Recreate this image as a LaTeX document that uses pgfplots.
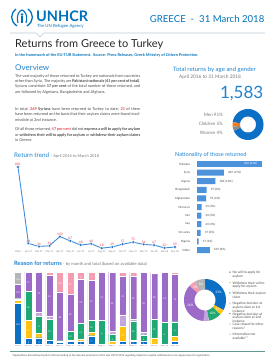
\documentclass[border=0pt]{standalone}
\usepackage{fontspec}
\setmainfont{Lato}
\usepackage{pgfplots}
\pgfplotsset{compat=1.18}
\usepackage{pgfplotstable}
\pgfplotsset{/pgf/number format/assume math mode=true}
\newcommand{\fs}[1]{\fontsize{#1}{#1}\selectfont}
\definecolor{unblue}{HTML}{0072BC}
\definecolor{hblue}{HTML}{1F83D1}
\definecolor{txtgray}{HTML}{4A4A4A}
\definecolor{dgray}{HTML}{7A7A7A}
\definecolor{redl}{HTML}{E5424D}
\definecolor{linec}{HTML}{3F8EDB}
\definecolor{markc}{HTML}{1E6FC0}
\definecolor{natbar}{HTML}{4C93DC}
\definecolor{cb}{HTML}{0B6FC6}
\definecolor{cy}{HTML}{FFC30F}
\definecolor{cg}{HTML}{1FA774}
\definecolor{clp}{HTML}{C2A5DD}
\definecolor{cp}{HTML}{9C6BC7}
\definecolor{cpk}{HTML}{F49DB0}
\definecolor{cgr}{HTML}{B5B5B5}
\definecolor{corange}{HTML}{F07D21}
\definecolor{agegray}{HTML}{8C8C8C}
\definecolor{sepline}{HTML}{BCCBD8}
\definecolor{footline}{HTML}{5F9A92}

% monthly returns by reason: b=no will, yw=withdrew will, g=withdrew claim,
% lp=negative 1st, p=negative 2nd, pk=closed other, gr=not available, t=total
\pgfplotstableread{
i b yw g lp p pk gr t
0 452 34 18 6 153 0 138 801
1 5 16 26 0 17 0 0 64
2 3 2 8 2 19 0 0 34
3 2 0 12 2 23 2 0 41
4 3 0 3 0 88 36 0 130
5 3 2 10 0 45 27 0 87
6 2 1 11 0 29 5 0 48
7 7 3 10 0 33 7 0 60
8 0 0 6 0 12 0 0 18
9 0 1 3 1 24 0 0 29
10 2 12 0 9 31 3 0 57
11 3 1 20 2 45 4 0 75
12 2 0 5 2 45 0 0 54
13 0 4 12 0 30 1 0 47
14 0 0 6 0 14 0 0 20
15 1 2 6 0 19 1 0 29
}\reasons

\begin{document}
\begin{tikzpicture}
\path[use as bounding box] (0,0) rectangle (265pt,-358pt);
\fill[white] (0,0) rectangle (265pt,-358pt);

% ---------- header ----------
\begin{scope}[shift={(22pt,-17pt)}, unblue]
\draw[line width=1.3pt] (-6pt,8pt) .. controls (-12pt,3pt) and (-12pt,-4pt) .. (-5pt,-9pt);
\draw[line width=1.3pt] (6pt,8pt) .. controls (12pt,3pt) and (12pt,-4pt) .. (5pt,-9pt);
\draw[line width=1.1pt] (-4pt,-6pt) .. controls (-6pt,2pt) and (-3pt,6pt) .. (0,7pt) .. controls (3pt,6pt) and (6pt,2pt) .. (4pt,-6pt);
\fill (0,2.5pt) circle (1.3pt);
\fill (-1.3pt,-6pt) rectangle (1.3pt,0.6pt);
\end{scope}
\node[anchor=base west, inner sep=0, font=\fs{14.5}\bfseries, text=unblue] at (36pt,-21.5pt) {UNHCR};
\node[anchor=base west, inner sep=0, font=\fs{4.3}, text=unblue] at (37pt,-27.8pt) {The UN Refugee Agency};
\node[anchor=base east, inner sep=0, font=\fs{9.6}, text=unblue] at (264.5pt,-22.5pt) {GREECE\ \ -\ \ 31 March 2018};
\draw[sepline, line width=0.6pt] (10pt,-33pt) -- (36pt,-33pt) -- (40pt,-37pt) -- (44pt,-33pt) -- (265pt,-33pt);
\node[anchor=base west, inner sep=0, font=\fs{11}, text=black!85] at (15pt,-48pt) {Returns from Greece to Turkey};
\node[anchor=base west, inner sep=0, font=\fs{3.9}\bfseries, text=unblue] at (15pt,-56.5pt) {In the framework of the EU-TUR Statement.\ \ Source: Press Releases, Greek Ministry of Citizen Protection.};

% ---------- overview ----------
\node[anchor=base west, inner sep=0, font=\fs{8}, text=hblue] at (15pt,-71pt) {Overview};
\node[anchor=north west, inner sep=0, text width=125pt, align=justify, font=\fontsize{3.9}{5.3}\selectfont, text=txtgray] at (15pt,-74.2pt)
{The vast majority of those returned to Turkey are nationals from countries other than Syria. The majority are \textbf{Pakistani nationals (41 per cent of total)}. Syrians constitute \textbf{17 per cent} of the total number of those returned, and are followed by Algerians, Bangladeshis and Afghans.};
\node[anchor=north west, inner sep=0, text width=125pt, align=justify, font=\fontsize{3.9}{5.3}\selectfont, text=txtgray] at (15pt,-107.5pt)
{In total, \textcolor{redl}{\textbf{269}} \textbf{Syrians} have been returned to Turkey to date; \textcolor{redl}{\textbf{21}} of them have been returned on the basis that their asylum claims were found inadmissible at 2nd instance.};
\node[anchor=north west, inner sep=0, text width=125pt, align=justify, font=\fontsize{3.9}{5.3}\selectfont, text=txtgray] at (15pt,-127.8pt)
{Of all those returned, \textcolor{redl}{\textbf{47 per cent}} did not \textbf{express a will to apply for asylum} or \textbf{withdrew their will to apply for asylum} or \textbf{withdrew their asylum claims} in Greece.};

% ---------- total returns ----------
\node[anchor=base west, inner sep=0, font=\fs{6}, text=hblue] at (173pt,-71.5pt) {Total returns by age and gender};
\node[anchor=base west, inner sep=0, font=\fs{4.8}, text=dgray] at (179pt,-78.5pt) {April 2016 to 31 March 2018};
\node[anchor=base east, inner sep=0, font=\fs{17}, text=hblue] at (263.5pt,-99pt) {1,583};
\node[anchor=base east, inner sep=0, font=\fs{4.5}, text=dgray] at (223pt,-116.5pt) {Men 91\%};
\node[anchor=base east, inner sep=0, font=\fs{4.5}, text=dgray] at (223pt,-126pt) {Children 5\%};
\node[anchor=base east, inner sep=0, font=\fs{4.5}, text=dgray] at (223pt,-135pt) {Women 4\%};

% age/gender donut: Men 91 %, Children 5 %, Women 4 % (angles = share x 3.6)
\begin{axis}[at={(248pt,-124.5pt)}, anchor=center, scale only axis, width=31pt, height=31pt,
  xmin=-15.5, xmax=15.5, ymin=-15.5, ymax=15.5, hide axis, clip=false]
\addplot[no marks, draw=cb, line width=7.5pt, domain=203.4:531, samples=80] ({11.75*cos(x)},{11.75*sin(x)});
\addplot[no marks, draw=corange, line width=7.5pt, domain=171:189, samples=8] ({11.75*cos(x)},{11.75*sin(x)});
\addplot[no marks, draw=agegray, line width=7.5pt, domain=189:203.4, samples=8] ({11.75*cos(x)},{11.75*sin(x)});
\end{axis}

% ---------- return trend ----------
\node[anchor=base west, inner sep=0, text=hblue] at (14pt,-157.5pt) {\fs{6.3}Return trend\ \textcolor{dgray}{\fs{4}- April 2016 to March 2018}};
\begin{axis}[at={(12.77pt,-250pt)}, anchor=south west, scale only axis, width=167.5pt, height=83pt,
  xmin=-0.5, xmax=15.5, ymin=0, ymax=801,
  axis line style={draw=none}, tick style={draw=none}, ytick=\empty,
  xtick={0,...,15},
  xticklabels={2016,Jan 17,Feb 17,Mar 17,Apr 17,May 17,Jun 17,Jul 17,Aug 17,Sep 17,Oct 17,Nov 17,Dec 17,Jan 18,Feb 18,Mar 18},
  xticklabel style={font=\fs{2.4}, text=dgray, inner sep=0pt, yshift=-0.6pt},
  clip=false]
\addplot[linec, line width=0.9pt, mark=*, mark size=1.6pt, mark options={fill=markc, draw=white, line width=0.3pt},
  nodes near coords, every node near coord/.append style={font=\fs{3.2}, text=redl, inner sep=0.5pt, yshift=0.6pt}]
  table[x=i, y=t] \reasons;
\end{axis}

% ---------- nationality ----------
\node[anchor=base west, inner sep=0, font=\fs{5.6}, text=hblue] at (175pt,-157pt) {Nationality of those returned};
\begin{axis}[at={(197pt,-159.7pt)}, anchor=north west, scale only axis, width=64.6pt, height=94.6pt,
  xmin=0, xmax=646, ymin=-0.5, ymax=10.5, y dir=reverse, xbar, bar width=6pt,
  axis line style={draw=none}, tick style={draw=none}, xtick=\empty, ytick={0,...,10},
  yticklabels={Pakistan,Syria,Algeria,Bangladesh,Afghanistan,Morocco,Iran,Iraq,Sri Lanka,Nigeria,Other},
  yticklabel style={font=\fs{2.9}, text=txtgray, inner sep=0pt, xshift=-2.5pt},
  point meta=explicit symbolic, nodes near coords, clip=false]
\addplot[fill=natbar, draw=none, bar shift=0pt,
  every node near coord/.append style={anchor=east, text=white, font=\fs{2.9}, xshift=-1pt}]
  coordinates {(646,0) [646 (41\%)]};
\addplot[fill=natbar, draw=none, bar shift=0pt,
  every node near coord/.append style={anchor=west, text=txtgray, font=\fs{2.9}, xshift=0.6pt}]
  coordinates {(269,1) [269 (17\%)] (184,2) [184 (12\%)] (97,3) [97 (6\%)] (91,4) [91 (6\%)]
  (45,5) [45 (3\%)] (44,6) [44 (3\%)] (44,7) [44 (3\%)] (37,8) [37 (2\%)] (17,9) [17 (1\%)] (129,10) [129 (8\%)]};
\end{axis}

% ---------- reasons ----------
\node[anchor=base west, inner sep=0, text=hblue] at (14pt,-265.5pt) {\fs{5.8}\bfseries Reason for returns\ \textcolor{dgray}{\mdseries\fs{4.2}- by month and total (based on available data)}};
\begin{axis}[at={(12.77pt,-344pt)}, anchor=south west, scale only axis, width=167.5pt, height=72pt,
  xmin=-0.5, xmax=15.5, ymin=0, ymax=100, ybar stacked, bar width=7pt,
  axis line style={draw=none}, tick style={draw=none}, ytick=\empty,
  xtick={0,...,15},
  xticklabels={2016,Jan 17,Feb 17,Mar 17,Apr 17,May 17,Jun 17,Jul 17,Aug 17,Sep 17,Oct 17,Nov 17,Dec 17,Jan 18,Feb 18,Mar 18},
  xticklabel style={font=\fs{2.4}, text=dgray, inner sep=0pt, yshift=-0.6pt},
  point meta=explicit,
  nodes near coords={\pgfmathfloatifflags{\pgfplotspointmeta}{0}{}{\pgfmathprintnumber{\pgfplotspointmeta}}},
  every node near coord/.append style={font=\fs{2.3}, text=white, anchor=north, inner sep=0.5pt},
  legend style={at={(1.291,1.04)}, anchor=north west, draw=none, fill=none,
    font=\fontsize{3.3}{3.9}\selectfont, text=txtgray, inner sep=0pt, row sep=2.4pt,
    cells={anchor=west}, /tikz/every even column/.append style={column sep=1.2pt}},
  legend image code/.code={\fill[#1, draw=none] (1pt,1.1pt) circle (0.75pt);},
  clip=false]
\addplot[fill=cb, draw=white, line width=0.2pt] table[x=i, y expr=\thisrow{b}/\thisrow{t}*100, meta=b] \reasons;
\addplot[fill=cy, draw=white, line width=0.2pt] table[x=i, y expr=\thisrow{yw}/\thisrow{t}*100, meta=yw] \reasons;
\addplot[fill=cg, draw=white, line width=0.2pt] table[x=i, y expr=\thisrow{g}/\thisrow{t}*100, meta=g] \reasons;
\addplot[fill=clp, draw=white, line width=0.2pt] table[x=i, y expr=\thisrow{lp}/\thisrow{t}*100, meta=lp] \reasons;
\addplot[fill=cp, draw=white, line width=0.2pt] table[x=i, y expr=\thisrow{p}/\thisrow{t}*100, meta=p] \reasons;
\addplot[fill=cpk, draw=white, line width=0.2pt] table[x=i, y expr=\thisrow{pk}/\thisrow{t}*100, meta=pk] \reasons;
\addplot[fill=cgr, draw=white, line width=0.2pt] table[x=i, y expr=\thisrow{gr}/\thisrow{t}*100, meta=gr] \reasons;
\addlegendentry{\parbox[t]{60pt}{\raggedright No will to apply for\\asylum}}
\addlegendentry{\parbox[t]{60pt}{\raggedright Withdrew their will to\\apply for asylum}}
\addlegendentry{\parbox[t]{60pt}{\raggedright Withdrew their asylum\\claim}}
\addlegendentry{\parbox[t]{60pt}{\raggedright Negative decision at\\asylum claim at 1st\\instance}}
\addlegendentry{\parbox[t]{60pt}{\raggedright Negative decision at\\asylum claim at 2nd\\instance}}
\addlegendentry{\parbox[t]{60pt}{\raggedright Case closed for other\\reasons*}}
\addlegendentry{\parbox[t]{60pt}{\raggedright Information not\\available**}}
\end{axis}

% total reasons donut: 33, 4, 10, 4, 36, 5, 8 per cent, clockwise from top
\begin{axis}[at={(205pt,-300pt)}, anchor=center, scale only axis, width=42pt, height=42pt,
  xmin=-21, xmax=21, ymin=-21, ymax=21, hide axis, clip=false]
\addplot[no marks, draw=cb, line width=10.5pt, domain=-28.8:90, samples=40] ({15.75*cos(x)},{15.75*sin(x)});
\addplot[no marks, draw=cy, line width=10.5pt, domain=-43.2:-28.8, samples=8] ({15.75*cos(x)},{15.75*sin(x)});
\addplot[no marks, draw=cg, line width=10.5pt, domain=-79.2:-43.2, samples=15] ({15.75*cos(x)},{15.75*sin(x)});
\addplot[no marks, draw=clp, line width=10.5pt, domain=-93.6:-79.2, samples=8] ({15.75*cos(x)},{15.75*sin(x)});
\addplot[no marks, draw=cp, line width=10.5pt, domain=-223.2:-93.6, samples=45] ({15.75*cos(x)},{15.75*sin(x)});
\addplot[no marks, draw=cpk, line width=10.5pt, domain=-241.2:-223.2, samples=8] ({15.75*cos(x)},{15.75*sin(x)});
\addplot[no marks, draw=cgr, line width=10.5pt, domain=-270:-241.2, samples=12] ({15.75*cos(x)},{15.75*sin(x)});
\addplot[only marks, mark=none, point meta=explicit symbolic, nodes near coords,
  every node near coord/.append style={anchor=center, font=\fs{3.2}, text=white, inner sep=0pt}]
  coordinates {(13.56,8.02) [33\%] (12.74,-9.26) [4\%] (7.59,-13.80) [10\%] (-14.64,-5.80) [36\%] (-9.65,12.44) [5\%] (-3.92,15.26) [8\%]};
\end{axis}

% ---------- footnote ----------
\draw[footline, line width=0.7pt] (10pt,-351.5pt) -- (265pt,-351.5pt);
\node[anchor=base west, inner sep=0, font=\fs{2.6}, text=txtgray] at (12pt,-356.5pt) {*Applications discontinued and/or filed according to the relevant provisions of the Law 4375/2016 regarding implicit or explicit withdrawal or non appearance for registration.};
\end{tikzpicture}
\end{document}
